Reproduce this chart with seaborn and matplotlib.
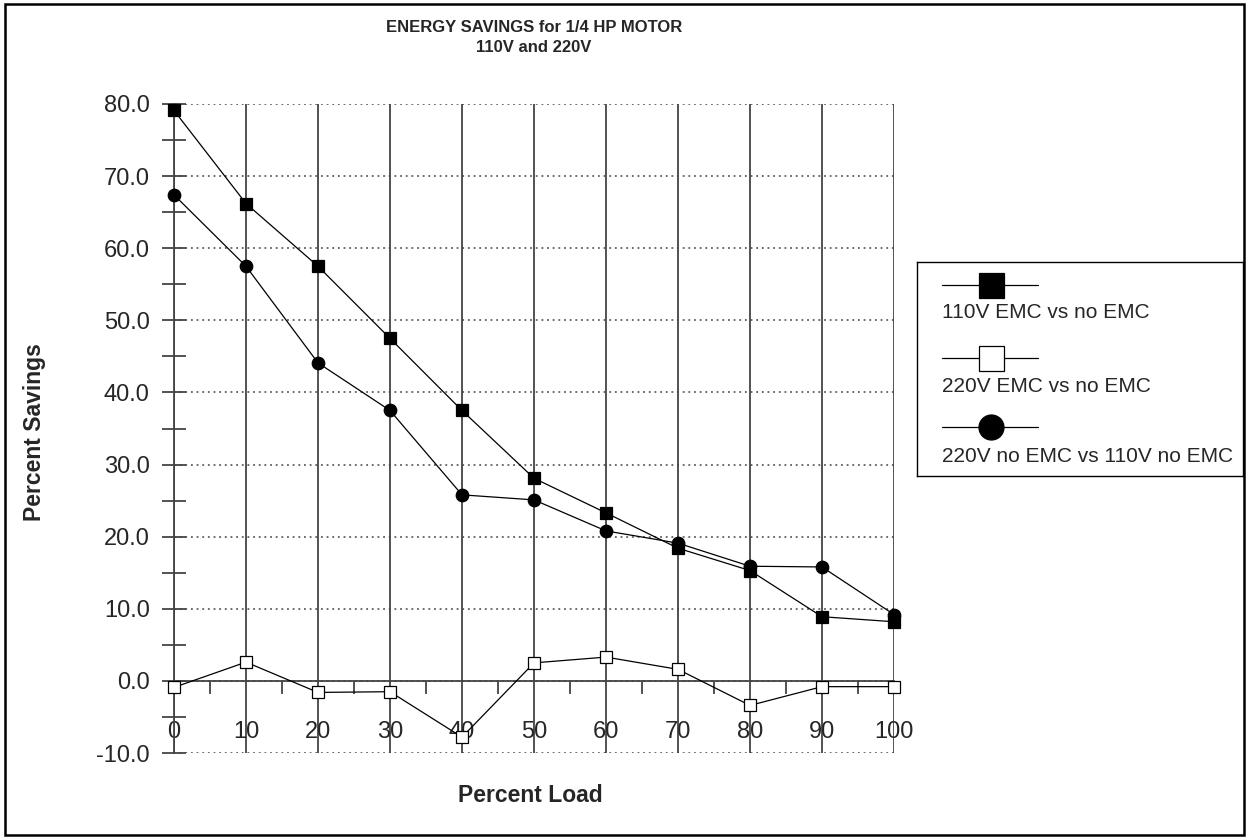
import numpy as np
import pandas as pd
import seaborn as sns
import matplotlib.pyplot as plt
from matplotlib.lines import Line2D
from matplotlib.patches import Rectangle
from matplotlib.ticker import MultipleLocator, FormatStrFormatter

# --- Data ---
percent_load = [0, 10, 20, 30, 40, 50, 60, 70, 80, 90, 100]
emc_110 = [79.1, 66.2, 57.5, 47.5, 37.5, 28.1, 23.3, 18.4, 15.3, 8.9, 8.2]
emc_220 = [-0.9, 2.6, -1.6, -1.5, -7.8, 2.5, 3.3, 1.6, -3.4, -0.8, -0.8]
v220_vs_v110 = [67.4, 57.5, 44.1, 37.5, 25.8, 25.1, 20.8, 19.1, 15.9, 15.8, 9.2]

series_names = ["110V EMC vs no EMC", "220V EMC vs no EMC", "220V no EMC vs 110V no EMC"]
series_style = [
    dict(marker="s", markerfacecolor="black"),
    dict(marker="s", markerfacecolor="white"),
    dict(marker="o", markerfacecolor="black"),
]

df = pd.DataFrame({
    "load": percent_load * 3,
    "savings": emc_110 + emc_220 + v220_vs_v110,
    "series": np.repeat(series_names, len(percent_load)),
})

# --- Style ---
sns.set_style("white")
plt.rcParams["font.family"] = ["Liberation Sans", "DejaVu Sans"]
GRID = "#444444"

fig = plt.figure(figsize=(12.49, 8.39), dpi=100)
ax = fig.add_axes([174 / 1249, 1 - 753 / 839, 720 / 1249, 649 / 839])

for name, style in zip(series_names, series_style):
    sub = df[df["series"] == name]
    sns.lineplot(data=sub, x="load", y="savings", ax=ax, color="black",
                 linewidth=0.9, markersize=9, markeredgecolor="black",
                 markeredgewidth=0.9, clip_on=False, zorder=5, **style)

ax.set_xlim(0, 100)
ax.set_ylim(-10, 80)
ax.set_xlabel("")
ax.set_ylabel("")

# spines: only left (at x=0) and bottom moved to y=0
for side in ["top", "right"]:
    ax.spines[side].set_visible(False)
ax.spines["left"].set_color(GRID)
ax.spines["left"].set_linewidth(1.3)
ax.spines["bottom"].set_position(("data", 0))
ax.spines["bottom"].set_color(GRID)
ax.spines["bottom"].set_linewidth(1.3)

# x ticks
ax.xaxis.set_major_locator(MultipleLocator(10))
ax.xaxis.set_minor_locator(MultipleLocator(5))
ax.tick_params(axis="x", which="major", bottom=True, length=0, pad=29,
               labelsize=17)
ax.tick_params(axis="x", which="minor", bottom=True, direction="out",
               length=9, width=1.3, color=GRID)

# y ticks
ax.yaxis.set_major_locator(MultipleLocator(10))
ax.yaxis.set_minor_locator(MultipleLocator(5))
ax.yaxis.set_major_formatter(FormatStrFormatter("%.1f"))
ax.tick_params(axis="y", which="both", left=True, direction="inout",
               length=17, width=1.3, color=GRID, pad=9, labelsize=17)

# grids: solid verticals, dotted horizontals
ax.grid(axis="x", which="major", color=GRID, linestyle="-", linewidth=1.3)
ax.grid(axis="y", which="major", color=GRID, linestyle=(0, (1.2, 2.5)),
        linewidth=1.1)
ax.set_axisbelow(True)

# titles and labels
fig.text(534 / 1249, 1 - 28 / 839, "ENERGY SAVINGS for 1/4 HP MOTOR",
         ha="center", va="center", fontsize=12, fontweight="bold")
fig.text(534 / 1249, 1 - 47 / 839, "110V and 220V",
         ha="center", va="center", fontsize=12, fontweight="bold")
fig.text(35 / 1249, 1 - 432 / 839, "Percent Savings", rotation=90,
         ha="center", va="center", fontsize=16.5, fontweight="bold")
fig.text(530 / 1249, 1 - 795 / 839, "Percent Load",
         ha="center", va="center", fontsize=16.5, fontweight="bold")

# legend box: marker above, label below
lax = fig.add_axes([917 / 1249, 1 - 476 / 839, 326 / 1249, 214 / 839])
lax.set_xlim(0, 326)
lax.set_ylim(214, 0)
lax.set_xticks([])
lax.set_yticks([])
for s in lax.spines.values():
    s.set_color("black")
    s.set_linewidth(1.0)
for i, (name, style) in enumerate(zip(series_names, series_style)):
    yh = [23, 96, 165][i]
    yt = [51, 125, 195][i]
    lax.add_line(Line2D([25, 121], [yh, yh], color="black", linewidth=0.9))
    lax.add_line(Line2D([74], [yh], color="black", markersize=18,
                        markeredgecolor="black", markeredgewidth=0.9,
                        linestyle="none", **style))
    lax.text(25, yt, name, ha="left", va="center", fontsize=15)

# outer frame round the whole figure
fig.patches.append(Rectangle((5 / 1249, 4 / 839), 1239 / 1249, 831 / 839,
                             transform=fig.transFigure, fill=False,
                             edgecolor="black", linewidth=1.8))

fig.savefig("out.png", dpi=100)
